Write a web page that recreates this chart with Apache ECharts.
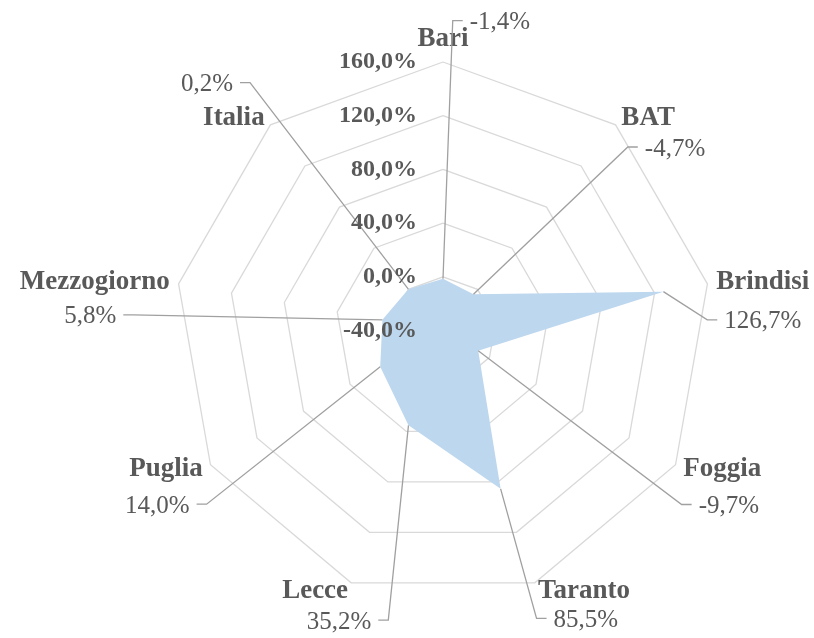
<!DOCTYPE html>
<html>
<head>
<meta charset="utf-8">
<script src="https://cdn.jsdelivr.net/npm/echarts@6/dist/echarts.min.js"></script>
<style>
html, body { margin: 0; padding: 0; background: #fff; }
#chart { width: 814px; height: 638px; }
</style>
</head>
<body>
<div id="chart"></div>
<script>
var categories = ['Bari', 'BAT', 'Brindisi', 'Foggia', 'Taranto', 'Lecce', 'Puglia', 'Mezzogiorno', 'Italia'];
var values = [-1.4, -4.7, 126.7, -9.7, 85.5, 35.2, 14.0, 5.8, 0.2];
var axisMin = -40, axisMax = 160, axisStep = 40;

// where each value label sits: radius in axis units, angle in degrees clockwise from top
var labelRadius = [191, 154, 157, 180, 185.5, 179.5, 178.5, 191, 194];
var labelAngle = [1.8, 45.2, 87.7, 126.1, 162, 190.7, 233.7, 272.9, 322.1];

var textColor = '#595959';
var fontFam = '"Liberation Serif", "Times New Roman", serif';

function pct(v) {
	return v.toFixed(1).replace('.', ',') + '%';
}

var n = categories.length;
var step = 360 / n;
// radar runs counter-clockwise, the original runs clockwise
var order = categories.map(function (c, i) { return i === 0 ? 0 : n - i; });

var option = {
	animation: false,
	backgroundColor: '#fff',
	radar: {
		center: [443, 330.5],
		radius: 268.5,
		startAngle: 90,
		splitNumber: 5,
		shape: 'polygon',
		nameGap: 9,
		indicator: order.map(function (i) {
			return { name: categories[i], min: axisMin, max: axisMax };
		}),
		axisName: {
			color: textColor,
			fontSize: 27,
			fontWeight: 'bold',
			fontFamily: fontFam
		},
		splitLine: { lineStyle: { color: '#d9d9d9', width: 1.3 } },
		splitArea: { show: false },
		axisLine: { show: false },
		axisTick: { show: false },
		axisLabel: { show: false }
	},
	polar: {
		center: [443, 330.5],
		radius: 268.5
	},
	angleAxis: {
		type: 'value',
		min: 0,
		max: 360,
		startAngle: 90,
		clockwise: true,
		show: false
	},
	radiusAxis: {
		type: 'value',
		min: axisMin,
		max: axisMax,
		interval: axisStep,
		z: 5,
		axisLine: { show: false },
		axisTick: { show: false },
		splitLine: { show: false },
		axisLabel: {
			margin: 26,
			formatter: pct,
			color: textColor,
			fontSize: 24,
			fontWeight: 'bold',
			fontFamily: fontFam,
			padding: [0, 0, 5, 0]
		}
	},
	series: [
		{
			type: 'radar',
			z: 2,
			symbol: 'none',
			lineStyle: { width: 0 },
			areaStyle: { color: '#BDD7EE', opacity: 1 },
			data: [{ value: order.map(function (i) { return values[i]; }) }]
		},
		{
			type: 'custom',
			coordinateSystem: 'polar',
			z: 3,
			data: values.map(function (v, i) { return [v, i * step]; }),
			renderItem: function (params, api) {
				var i = params.dataIndex;
				var p0 = api.coord([api.value(0), api.value(1)]);
				var p1 = api.coord([labelRadius[i], labelAngle[i]]);
				var right = labelAngle[i] < 180;
				var p2 = [p1[0] + (right ? 10 : -10), p1[1]];
				return {
					type: 'group',
					children: [
						{
							type: 'polyline',
							shape: { points: [p0, p1, p2] },
							style: { stroke: '#a0a0a0', lineWidth: 1.3, fill: null }
						},
						{
							type: 'text',
							x: p2[0] + (right ? 7 : -7),
							y: p1[1] + 2,
							style: {
								text: pct(values[i]),
								align: right ? 'left' : 'right',
								verticalAlign: 'middle',
								fontSize: 25,
								fontFamily: fontFam,
								fill: textColor
							}
						}
					]
				};
			}
		}
	]
};

var chart = echarts.init(document.getElementById('chart'));
chart.setOption(option);
window.addEventListener('resize', function () {
	chart.resize();
});
</script>
</body>
</html>
